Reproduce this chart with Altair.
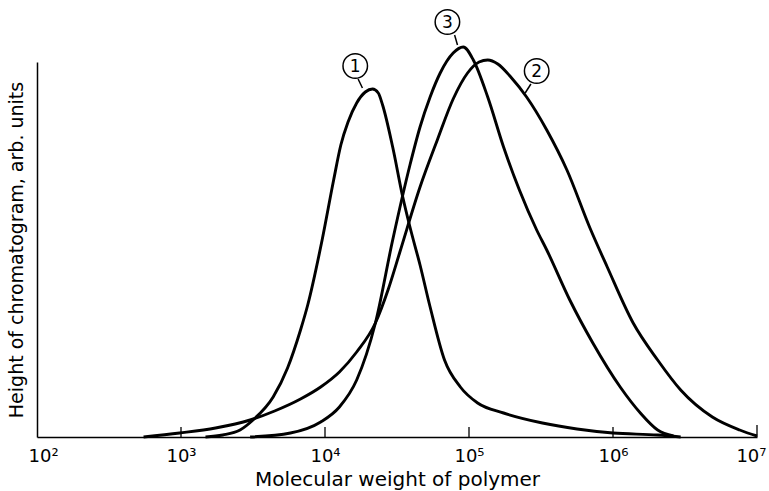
import altair as alt
import pandas as pd

# log10 of molecular weight and height (arb. units)
c1_lg = [3.17, 3.29, 3.41, 3.50, 3.64, 3.74, 3.83, 3.88, 3.98, 4.06, 4.11, 4.16, 4.22, 4.28, 4.33,
         4.37, 4.40, 4.47, 4.54, 4.59, 4.66, 4.73, 4.83, 4.94, 5.06, 5.24, 5.51, 5.75, 6.00, 6.31, 6.47]
c1_h = [0, 2, 7, 17, 40, 69, 107, 132, 197, 257, 292, 315, 334, 345, 348,
        344, 332, 290, 240, 210, 172, 130, 77, 50, 34, 24, 14, 8, 4, 2, 0]

c2_lg = [2.74, 2.99, 3.24, 3.48, 3.65, 3.83, 3.97, 4.10, 4.22, 4.35, 4.44, 4.52, 4.66, 4.78, 4.89,
         4.99, 5.07, 5.13, 5.20, 5.29, 5.40, 5.54, 5.68, 5.84, 5.96, 6.14, 6.31, 6.47, 6.69, 6.88,
         7.00]
c2_h = [0, 4, 9, 17, 26, 38, 50, 65, 85, 114, 148, 185, 250, 297, 338,
        364, 375, 377, 373, 360, 340, 307, 267, 209, 170, 114, 77, 47, 20, 7,
        1]

c3_lg = [3.48, 3.76, 3.97, 4.10, 4.22, 4.35, 4.47, 4.59, 4.66, 4.73, 4.80, 4.89, 4.96, 5.03, 5.13,
         5.24, 5.35, 5.47, 5.54, 5.70, 5.86, 6.05, 6.19, 6.31, 6.42]
c3_h = [0, 4, 15, 30, 57, 114, 197, 272, 310, 340, 364, 384, 390, 377, 340,
        290, 247, 207, 187, 137, 94, 50, 24, 7, 1]

# curve labels (circled numbers) and their leader lines
label_text = ["1", "3", "2"]
label_lg = [4.21, 4.85, 5.47]
label_h = [371, 415, 366]
leader_lg1 = [4.23, 4.90, 5.43]
leader_h1 = [358, 402, 353]
leader_lg2 = [4.26, 4.92, 5.39]
leader_h2 = [349, 392, 344]

tick_values = [1e2, 1e3, 1e4, 1e5, 1e6, 1e7]

rows = []
for name, lgs, hs in [("1", c1_lg, c1_h), ("2", c2_lg, c2_h), ("3", c3_lg, c3_h)]:
    for lg, h in zip(lgs, hs):
        rows.append({"series": name, "mw": 10 ** lg, "h": h})
df = pd.DataFrame(rows)

lab_df = pd.DataFrame({"label": label_text, "mw": [10 ** v for v in label_lg], "h": label_h})
lead_df = pd.DataFrame({"mw": [10 ** v for v in leader_lg1], "mw2": [10 ** v for v in leader_lg2],
                        "h": leader_h1, "h2": leader_h2})
tick_df = pd.DataFrame({"mw": tick_values[1:], "h": [0] * 5, "h2": [10, 10, 10, 10, 12]})

FONT = "DejaVu Sans"
x_scale = alt.Scale(type="log", domain=[1e2, 1e7], nice=False)
y_scale = alt.Scale(domain=[0, 375], nice=False, zero=True)

x_axis = alt.Axis(
    values=tick_values,
    labelExpr="'10' + ['⁰','¹','²','³','⁴','⁵','⁶','⁷'][round(log(datum.value)/LN10)]",
    ticks=False, grid=False, domainColor="black", domainWidth=1.5,
    labelFont=FONT, labelFontSize=18, labelColor="black", labelPadding=10,
    labelFlush=True, labelFlushOffset=9,
    title="Molecular weight of polymer", titleFont=FONT, titleFontSize=20,
    titleFontWeight="normal", titleColor="black", titlePadding=4)
y_axis = alt.Axis(
    labels=False, ticks=False, grid=False, domainColor="black", domainWidth=1.5,
    title="Height of chromatogram, arb. units", titleFont=FONT, titleFontSize=19,
    titleFontWeight="normal", titleColor="black", titlePadding=11)

X = alt.X("mw:Q", scale=x_scale, axis=x_axis, title="Molecular weight of polymer")
Y = alt.Y("h:Q", scale=y_scale, axis=y_axis, title="Height of chromatogram, arb. units")

lines = alt.Chart(df).mark_line(color="black", strokeWidth=2.9, interpolate="monotone").encode(
    x=X, y=Y, detail="series:N",
)

ticks = alt.Chart(tick_df).mark_rule(color="black", strokeWidth=1.3).encode(
    x=X, y=Y, y2="h2:Q",
)

leaders = alt.Chart(lead_df).mark_rule(color="black", strokeWidth=1.5).encode(
    x=X, x2="mw2:Q", y=Y, y2="h2:Q",
)

circles = alt.Chart(lab_df).mark_point(shape="circle", size=600, filled=False, color="black",
                                       strokeWidth=1.5, opacity=1).encode(x=X, y=Y)

texts = alt.Chart(lab_df).mark_text(font=FONT, fontSize=17, color="black", baseline="middle",
                                    align="center", dy=1).encode(x=X, y=Y, text="label:N")

chart = alt.layer(lines, ticks, leaders, circles, texts).properties(
    width=720, height=375,
    autosize=alt.AutoSizeParams(type="none"),
    padding={"left": 37, "top": 62, "right": 12, "bottom": 54},
    background="white",
).configure_view(stroke=None)

chart.save("out.html", embed_options={"renderer": "svg", "actions": False})
